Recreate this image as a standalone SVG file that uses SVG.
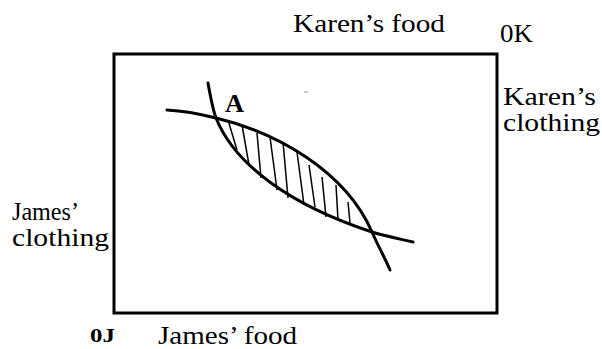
<svg xmlns="http://www.w3.org/2000/svg" width="602" height="349" viewBox="0 0 602 349">
<style>
text{font-family:"Liberation Serif","Times New Roman",serif;fill:#000;}
.lbl{font-size:25px;}
.curve{fill:none;stroke:#000;stroke-width:3;stroke-linecap:round;}
.hatch{fill:none;stroke:#000;stroke-width:1.5;}
</style>
<rect width="602" height="349" fill="#fff"/>
<g id="box">
<rect x="114" y="54" width="383" height="259" fill="none" stroke="#000" stroke-width="3"/>
</g>
<g id="connectors">
<path id="karen-ic" class="curve" d="M167,110 C185,111 200,114 216,118 C275,132 345,170 372,232 C380,250 385,258 390,270"/>
<path id="james-ic" class="curve" d="M208,83 C211,100 213,110 216,118 C235,165 290,205 372,232 C385,236 400,239 413,242"/>
<g id="hatching" class="hatch">
<line x1="228" y1="120" x2="237" y2="150"/>
<line x1="242" y1="125" x2="249" y2="165"/>
<line x1="257" y1="133" x2="261" y2="178"/>
<line x1="270" y1="137" x2="277" y2="190"/>
<line x1="283" y1="142" x2="288" y2="198"/>
<line x1="297" y1="152" x2="304" y2="205"/>
<line x1="309" y1="165" x2="315" y2="207"/>
<line x1="322" y1="177" x2="326" y2="217"/>
<line x1="336" y1="185" x2="338" y2="220"/>
<line x1="348" y1="202" x2="350" y2="223"/>
</g>
<line x1="304" y1="92" x2="308" y2="92" stroke="#999" stroke-width="1"/>
</g>
<g id="label-A"><text x="225" y="112" font-size="25" font-weight="bold" textLength="19" lengthAdjust="spacingAndGlyphs">A</text></g>
<g id="karens-food"><text class="lbl" x="293" y="32" textLength="152" lengthAdjust="spacingAndGlyphs">Karen’s food</text></g>
<g id="origin-K"><text class="lbl" x="500" y="42" textLength="33" lengthAdjust="spacingAndGlyphs">0K</text></g>
<g id="karens-clothing">
<text class="lbl" x="503" y="105" textLength="93" lengthAdjust="spacingAndGlyphs">Karen’s</text>
<text class="lbl" x="503" y="131" textLength="97" lengthAdjust="spacingAndGlyphs">clothing</text>
</g>
<g id="james-clothing">
<text class="lbl" x="12" y="220" textLength="67" lengthAdjust="spacingAndGlyphs">James’</text>
<text class="lbl" x="12" y="246" textLength="97" lengthAdjust="spacingAndGlyphs">clothing</text>
</g>
<g id="origin-J"><text x="90" y="342" font-size="19" font-weight="bold" textLength="25" lengthAdjust="spacingAndGlyphs">0J</text></g>
<g id="james-food"><text class="lbl" x="158" y="344" textLength="139" lengthAdjust="spacingAndGlyphs">James’ food</text></g>
</svg>
